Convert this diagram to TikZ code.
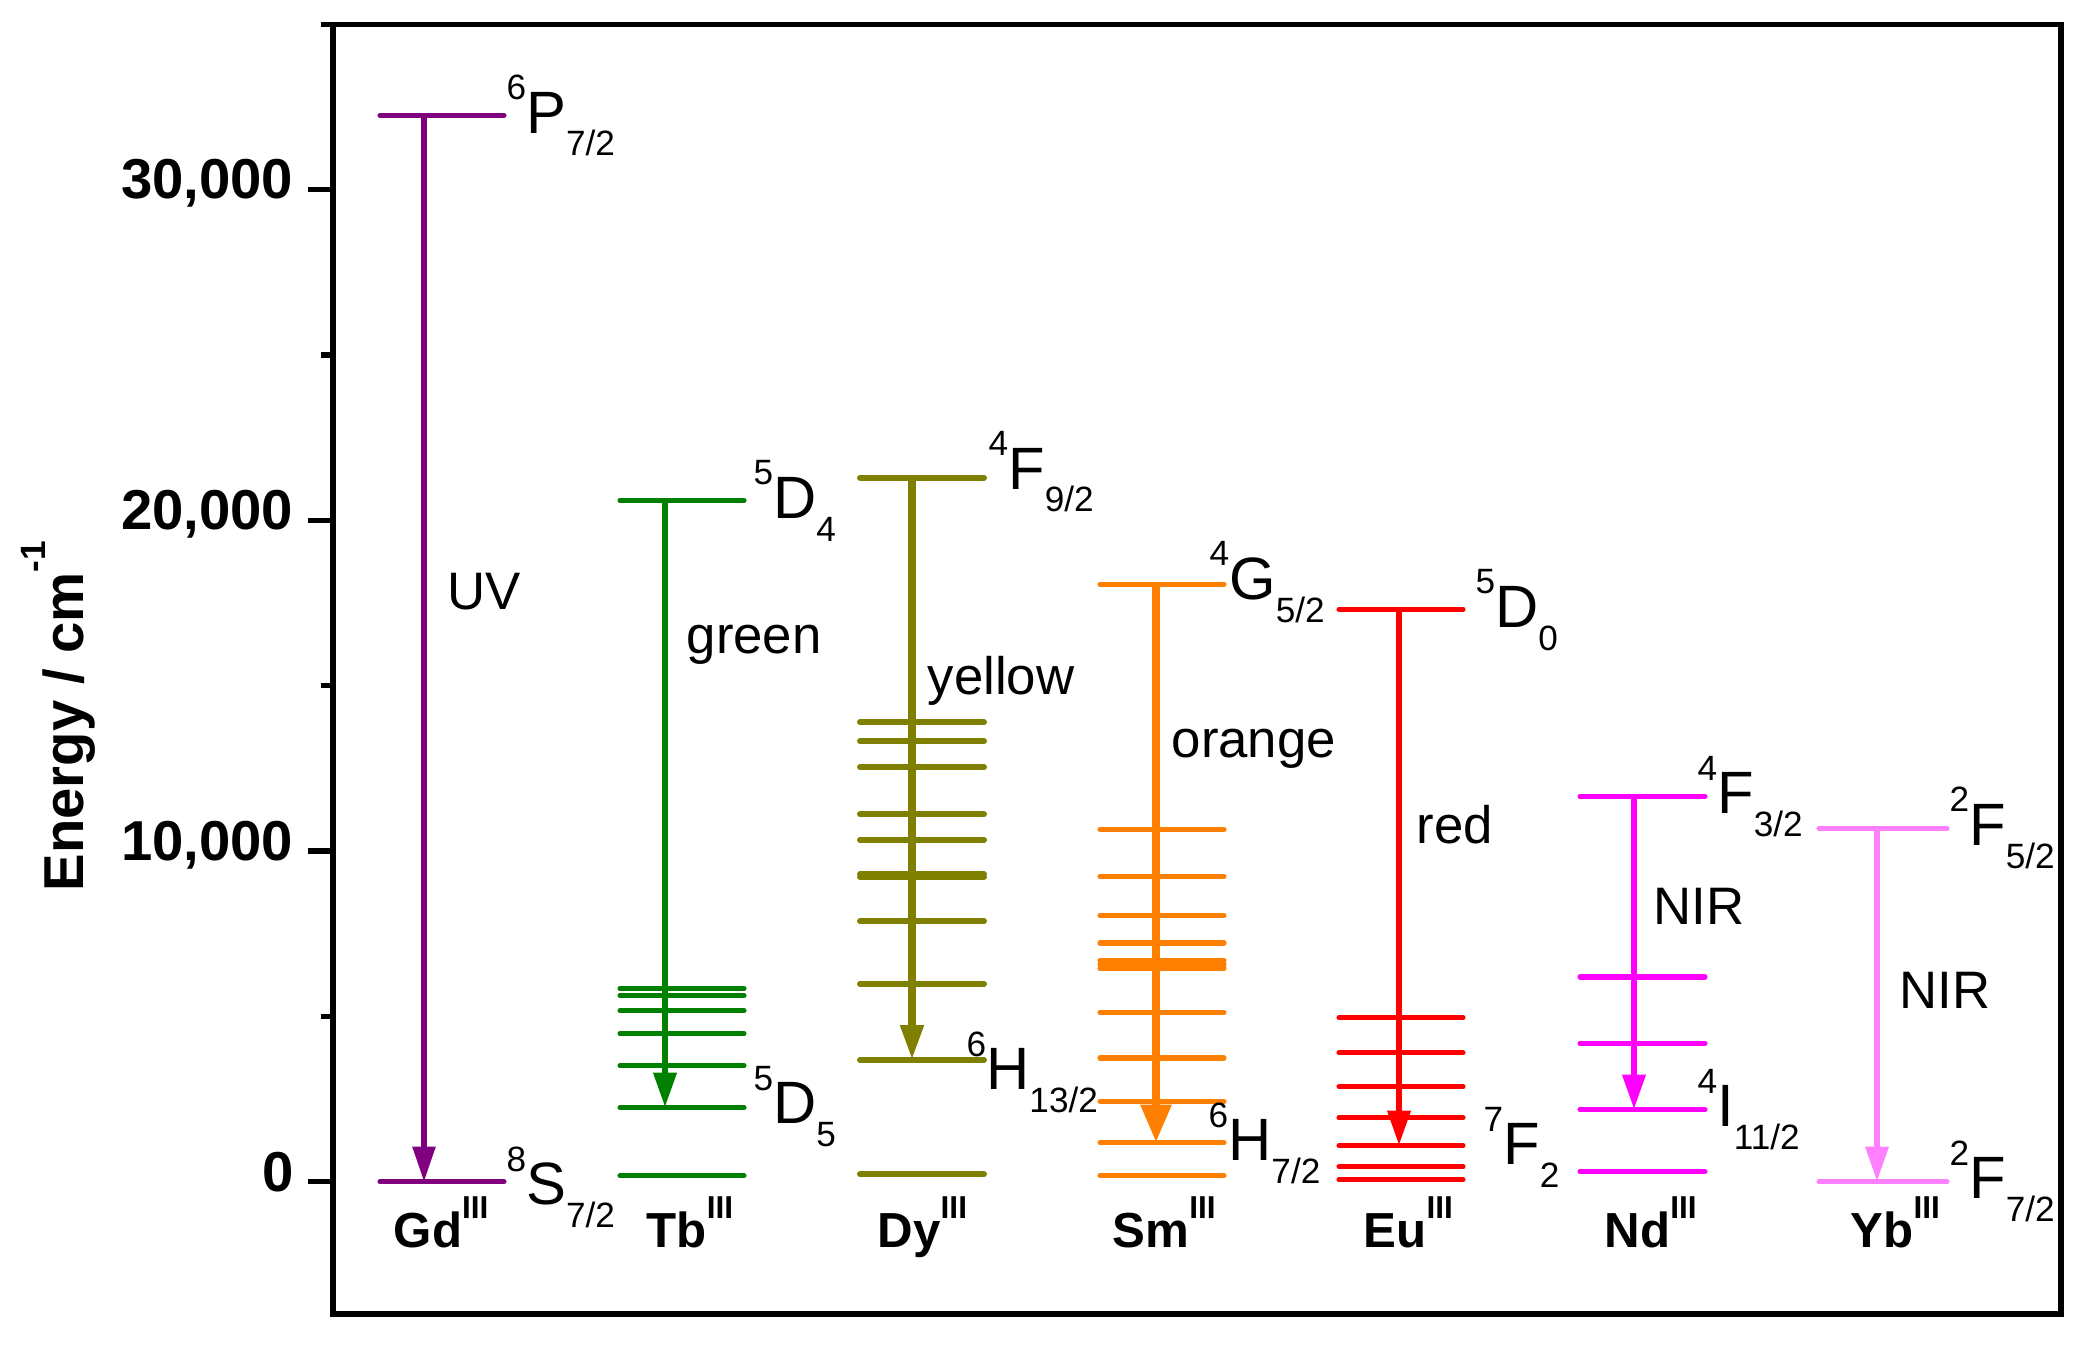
\documentclass[tikz,border=0pt]{standalone}
\usepackage{fontspec}
\setmainfont{Liberation Sans}
\usepackage{tikz}
\usetikzlibrary{arrows.meta, positioning}
\definecolor{gdpurple}{RGB}{128,0,128}
\definecolor{tbgreen}{RGB}{0,128,0}
\definecolor{dyolive}{RGB}{128,128,0}
\definecolor{smorange}{RGB}{255,128,0}
\definecolor{eured}{RGB}{255,0,0}
\definecolor{ndmagenta}{RGB}{255,0,255}
\definecolor{ybpink}{RGB}{255,128,255}
\newcommand{\termsym}[3]{\raisebox{0.56em}{\fontsize{10}{10}\selectfont #1}#2\raisebox{-0.38em}{\fontsize{10}{10}\selectfont #3}}
\newcommand{\ionname}[1]{#1\raisebox{0.6em}{\fontsize{9}{9}\selectfont III}}

\begin{document}
\begin{tikzpicture}[
    x=0.01cm, y=0.3305cm,
    lvline/.style={draw=#1, line width=1.45pt, line cap=round},
    arrow/.style={-{Triangle[length=0.35cm, width=0.22cm]}, line width=1.9pt, draw=#1},
    termlbl/.style={font=\fontsize{17}{20}\selectfont, inner sep=0pt, anchor=base west},
    bandlbl/.style={font=\fontsize{15}{18}\selectfont, inner sep=0pt, anchor=base west},
    ionlbl/.style={font=\bfseries\fontsize{14}{17}\selectfont, inner sep=0pt, anchor=base west},
    ticklbl/.style={font=\bfseries\fontsize{16}{19}\selectfont, inner sep=0pt, anchor=mid east}
]
\useasboundingbox (0,-4.993) rectangle (2091,35.734);

% Frame and energy axis
\draw[line width=1.5pt] (333,-4) rectangle (2061,35);
\draw[line width=1.5pt] (308,0) -- (333,0) (308,10) -- (333,10) (308,20) -- (333,20) (308,30) -- (333,30);
\draw[line width=1.5pt] (321,5) -- (333,5) (321,15) -- (333,15) (321,25) -- (333,25) (321,35) -- (333,35);
\node[ticklbl] (t0) at (294,0) {0};
\node[ticklbl] (t10) at (294,10) {10,000};
\node[ticklbl] (t20) at (294,20) {20,000};
\node[ticklbl] (t30) at (294,30) {30,000};
\node[rotate=90, anchor=base, font=\bfseries\fontsize{16}{19}\selectfont] (ylab) at (83,14.08) {Energy / cm\raisebox{0.66em}{\fontsize{10}{10}\selectfont -1}};

% Gd
\draw[lvline=gdpurple] (380,32.25) -- (504,32.25) (380,0) -- (504,0);
\coordinate (gdhi) at (424,32.25);
\coordinate (gdlo) at (424,0);
\draw[arrow=gdpurple, line width=1.5pt] (gdhi) -- (gdlo);
\node[termlbl] (gdhilbl) at (506,31.71) {\termsym{6}{P}{7/2}};
\node[termlbl] (gdlolbl) at (506,-0.70) {\termsym{8}{S}{7/2}};
\node[bandlbl] (uv) at (447,17.31) {UV};
\node[ionlbl] (gd) at (393,-2.0) {\ionname{Gd}};

% Tb
\draw[lvline=tbgreen] (620,20.60) -- (744,20.60) (620,5.84) -- (744,5.84) (620,5.63) -- (744,5.63)
    (620,5.17) -- (744,5.17) (620,4.48) -- (744,4.48) (620,3.51) -- (744,3.51)
    (620,2.24) -- (744,2.24) (620,0.18) -- (744,0.18);
\coordinate (tbhi) at (665,20.60);
\coordinate (tblo) at (665,2.24);
\draw[arrow=tbgreen, line width=1.9pt] (tbhi) -- (tblo);
\node[termlbl] (tbhilbl) at (753,20.06) {\termsym{5}{D}{4}};
\node[termlbl] (tblolbl) at (753,1.75) {\termsym{5}{D}{5}};
\node[bandlbl] (green) at (686,15.98) {green};
\node[ionlbl] (tb) at (646,-2.0) {\ionname{Tb}};

% Dy
\draw[lvline=dyolive, line width=1.7pt] (860,21.29) -- (984,21.29) (860,13.89) -- (984,13.89) (860,13.32) -- (984,13.32)
    (860,12.53) -- (984,12.53) (860,11.11) -- (984,11.11) (860,10.34) -- (984,10.34)
    (860,9.22) -- (984,9.22) (860,9.30) -- (984,9.30) (860,7.88) -- (984,7.88)
    (860,5.99) -- (984,5.99) (860,3.68) -- (984,3.68) (860,0.23) -- (984,0.23);
\coordinate (dyhi) at (912,21.29);
\coordinate (dylo) at (912,3.68);
\draw[arrow=dyolive, line width=2.2pt] (dyhi) -- (dylo);
\node[termlbl] (dyhilbl) at (988,20.94) {\termsym{4}{F}{9/2}};
\node[termlbl] (dylolbl) at (966,2.78) {\termsym{6}{H}{13/2}};
\node[bandlbl] (yellow) at (927,14.74) {yellow};
\node[ionlbl] (dy) at (877,-2.0) {\ionname{Dy}};

% Sm
\draw[lvline=smorange] (1100,18.07) -- (1224,18.07) (1100,10.65) -- (1224,10.65) (1100,9.23) -- (1224,9.23)
    (1100,8.05) -- (1224,8.05) (1100,7.22) -- (1224,7.22) (1100,6.69) -- (1224,6.69)
    (1100,6.57) -- (1224,6.57) (1100,6.45) -- (1224,6.45) (1100,5.12) -- (1224,5.12)
    (1100,3.74) -- (1224,3.74) (1100,2.43) -- (1224,2.43) (1100,1.18) -- (1224,1.18)
    (1100,0.18) -- (1224,0.18);
\coordinate (smhi) at (1156,18.07);
\coordinate (smlo) at (1156,1.18);
\draw[arrow=smorange, line width=2.4pt, -{Triangle[length=0.38cm, width=0.29cm]}] (smhi) -- (smlo);
\node[termlbl] (smhilbl) at (1209,17.61) {\termsym{4}{G}{5/2}};
\node[termlbl] (smlolbl) at (1208,0.64) {\termsym{6}{H}{7/2}};
\node[bandlbl] (orange) at (1171,12.83) {orange};
\node[ionlbl] (sm) at (1112,-2.0) {\ionname{Sm}};

% Eu
\draw[lvline=eured] (1339,17.31) -- (1463,17.31) (1339,4.96) -- (1463,4.96) (1339,3.90) -- (1463,3.90)
    (1339,2.87) -- (1463,2.87) (1339,1.94) -- (1463,1.94) (1339,1.09) -- (1463,1.09)
    (1339,0.45) -- (1463,0.45) (1339,0.06) -- (1463,0.06);
\coordinate (euhi) at (1399,17.31);
\coordinate (eulo) at (1399,1.09);
\draw[arrow=eured] (euhi) -- (eulo);
\node[termlbl] (euhilbl) at (1475,16.76) {\termsym{5}{D}{0}};
\node[termlbl] (eulolbl) at (1483,0.51) {\termsym{7}{F}{2}};
\node[bandlbl] (red) at (1416,10.23) {red};
\node[ionlbl] (eu) at (1363,-2.0) {\ionname{Eu}};

% Nd
\draw[lvline=ndmagenta] (1580,11.65) -- (1705,11.65) (1580,6.19) -- (1705,6.19) (1580,4.18) -- (1705,4.18)
    (1580,2.18) -- (1705,2.18) (1580,0.30) -- (1705,0.30);
\coordinate (ndhi) at (1634,11.65);
\coordinate (ndlo) at (1634,2.18);
\draw[arrow=ndmagenta] (ndhi) -- (ndlo);
\node[termlbl] (ndhilbl) at (1697,11.13) {\termsym{4}{F}{3/2}};
\node[termlbl] (ndlolbl) at (1697,1.66) {\termsym{4}{I}{11/2}};
\node[bandlbl] (ndnir) at (1653,7.78) {NIR};
\node[ionlbl] (nd) at (1604,-2.0) {\ionname{Nd}};

% Yb
\draw[lvline=ybpink] (1819,10.68) -- (1947,10.68) (1819,0) -- (1947,0);
\coordinate (ybhi) at (1877,10.68);
\coordinate (yblo) at (1877,0);
\draw[arrow=ybpink, line width=1.8pt] (ybhi) -- (yblo);
\node[termlbl] (ybhilbl) at (1949,10.17) {\termsym{2}{F}{5/2}};
\node[termlbl] (ybloblbl) at (1949,-0.51) {\termsym{2}{F}{7/2}};
\node[bandlbl] (ybnir) at (1899,5.23) {NIR};
\node[ionlbl] (yb) at (1850,-2.0) {\ionname{Yb}};

\end{tikzpicture}
\end{document}
